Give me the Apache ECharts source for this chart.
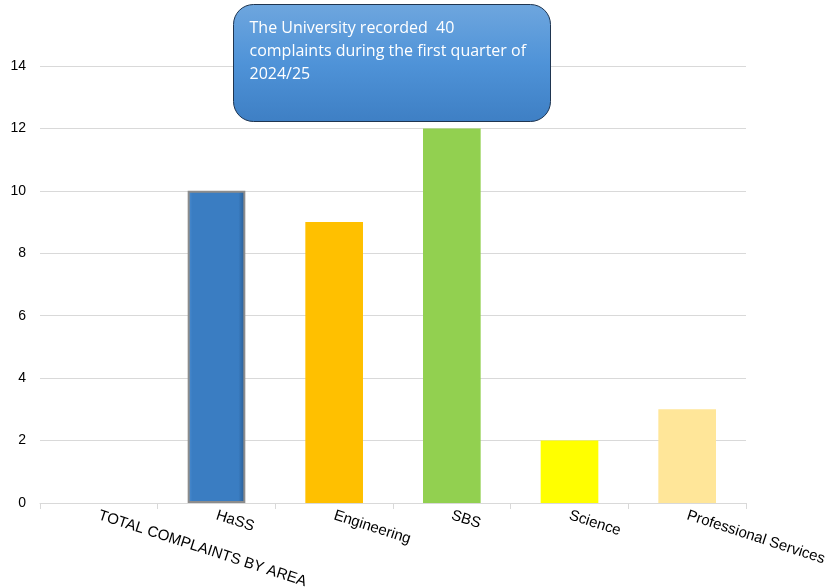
<!DOCTYPE html>
<html>
<head>
<meta charset="utf-8">
<script src="https://cdn.jsdelivr.net/npm/echarts@6/dist/echarts.min.js"></script>
<style>
  html, body { margin: 0; padding: 0; background: #ffffff; }
  #chart { width: 827px; height: 588px; }
</style>
</head>
<body>
<div id="chart"></div>
<script>
// Complaints per area, first quarter of 2024/25
const categories = ['TOTAL COMPLAINTS BY AREA', 'HaSS', 'Engineering', 'SBS', 'Science', 'Professional Services'];
const complaints = [null, 10, 9, 12, 2, 3];
const barColors = ['#ffffff', '#3a7dc2', '#ffc000', '#92d050', '#ffff00', '#ffe699'];
const yTicks = { min: 0, max: 14, interval: 2 };
const calloutLines = [
  'The University recorded  40',
  'complaints during the first quarter of',
  '2024/25'
];

// HaSS bar gets a bevelled look
const hassStyle = {
  color: {
    type: 'linear', x: 0, y: 0, x2: 1, y2: 0,
    colorStops: [
      { offset: 0, color: '#4f8fd3' },
      { offset: 0.08, color: '#3a7dc2' },
      { offset: 0.88, color: '#3a7dc2' },
      { offset: 1, color: '#27598e' }
    ]
  },
  borderColor: '#8c8c8c',
  borderWidth: 2
};

const chart = echarts.init(document.getElementById('chart'), null, { renderer: 'canvas' });

chart.setOption({
  animation: false,
  backgroundColor: '#ffffff',
  grid: { left: 40, right: 81, top: 66, bottom: 85, containLabel: false, outerBoundsMode: 'none' },
  xAxis: {
    type: 'category',
    data: categories,
    axisLine: { show: true, lineStyle: { color: '#d9d9d9', width: 1 } },
    axisTick: { show: true, length: 6, lineStyle: { color: '#d9d9d9' } },
    axisLabel: {
      interval: 0,
      rotate: -18,
      margin: 12,
      color: '#000000',
      fontFamily: 'Liberation Sans, Arial, sans-serif',
      fontSize: 15
    }
  },
  yAxis: {
    type: 'value',
    min: yTicks.min,
    max: yTicks.max,
    interval: yTicks.interval,
    axisLine: { show: false },
    axisTick: { show: false },
    splitLine: { lineStyle: { color: '#d9d9d9', width: 1 } },
    axisLabel: {
      margin: 14,
      color: '#000000',
      fontFamily: 'Liberation Sans, Arial, sans-serif',
      fontSize: 14
    }
  },
  series: [{
    type: 'bar',
    barWidth: '49%',
    data: complaints.map((v, i) => ({
      value: v,
      itemStyle: i === 1 ? hassStyle : { color: barColors[i] }
    }))
  }],
  graphic: [{
    type: 'group',
    left: 233,
    top: 4,
    z: 100,
    children: [{
      type: 'rect',
      z: 100,
      shape: { x: 0, y: 0, width: 317, height: 117, r: 20 },
      style: {
        fill: {
          type: 'linear', x: 0, y: 0, x2: 0, y2: 1,
          colorStops: [
            { offset: 0, color: '#6ea6de' },
            { offset: 0.5, color: '#4f93d8' },
            { offset: 1, color: '#3e7fc4' }
          ]
        },
        stroke: '#1f3550',
        lineWidth: 1
      }
    }, {
      type: 'text',
      z: 101,
      left: 16,
      top: 12,
      style: {
        text: calloutLines.join('\n'),
        fill: '#ffffff',
        font: '16px "Open Sans", "Noto Sans", sans-serif',
        lineHeight: 23
      }
    }]
  }]
});
</script>
</body>
</html>
